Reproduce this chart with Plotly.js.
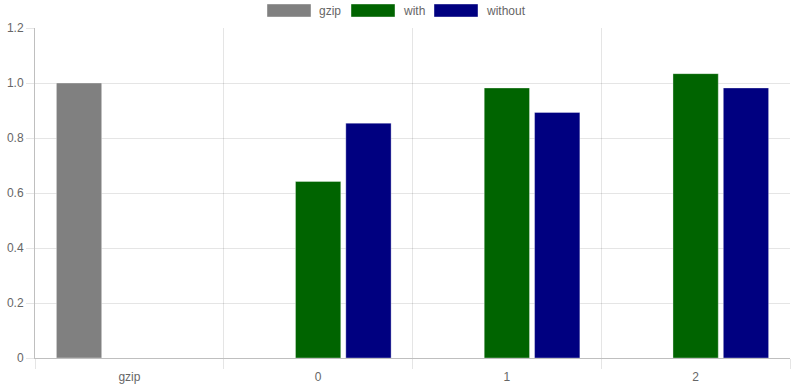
<!DOCTYPE html>
<html>
<head>
<meta charset="utf-8">
<script src="https://cdn.plot.ly/plotly-3.0.1.min.js"></script>
<style>html,body{margin:0;padding:0;background:#fff;}#chart{width:800px;height:388px;}</style>
</head>
<body>
<div id="chart"></div>
<script>
const categories = ["gzip", "0", "1", "2"];
const seriesNames = ["gzip", "with", "without"];
const seriesColors = ["#808080", "#006400", "#000080"];
const gzipValues = [1.0, null, null, null];
const withValues = [null, 0.642, 0.982, 1.034];
const withoutValues = [null, 0.854, 0.893, 0.982];
const yTickVals = [0, 0.2, 0.4, 0.6, 0.8, 1.0, 1.2];
const yTickText = ["0", "0.2", "0.4", "0.6", "0.8", "1.0", "1.2"];

const seriesValues = [gzipValues, withValues, withoutValues];
const traces = seriesNames.map((n, i) => ({
  type: "bar",
  name: n,
  x: categories,
  y: seriesValues[i],
  marker: {color: seriesColors[i], line: {width: 1, color: "rgba(255,255,255,0.35)"}},
  hoverinfo: "x+y+name",
  showlegend: false
}));

// custom Chart.js-style legend
const legendItems = [
  {box: [267, 311], text: 317},
  {box: [351, 395], text: 401},
  {box: [434, 478], text: 484}
];
const shapes = [];
const annotations = [];
seriesNames.forEach((n, i) => {
  const it = legendItems[i];
  shapes.push({type: "rect", xref: "paper", yref: "paper",
    x0: (it.box[0] - 35) / 755, x1: (it.box[1] - 35) / 755,
    y0: (358 - 17) / 330, y1: (358 - 4) / 330,
    fillcolor: seriesColors[i], line: {width: 1, color: "rgba(255,255,255,0.4)"}});
  annotations.push({xref: "paper", yref: "paper", x: (it.text - 35) / 755, y: (358 - 10.5) / 330,
    xanchor: "left", yanchor: "middle", text: n, showarrow: false,
    font: {family: "Liberation Sans, Arial, sans-serif", size: 12, color: "#666666"}});
});

const layout = {
  width: 800, height: 388,
  margin: {l: 35, r: 10, t: 28, b: 30},
  paper_bgcolor: "#fff", plot_bgcolor: "#fff",
  font: {family: "Liberation Sans, Arial, sans-serif", size: 12, color: "#666666"},
  barmode: "group", bargap: 0.2, bargroupgap: 0.1,
  showlegend: false,
  xaxis: {
    type: "category", tickson: "boundaries", ticks: "outside", ticklen: 10, tickcolor: "rgba(0,0,0,0.1)",
    ticklabelstandoff: 8,
    showgrid: true, gridcolor: "rgba(0,0,0,0.1)", gridwidth: 1,
    showline: true, linecolor: "rgba(0,0,0,0.25)", linewidth: 1,
    zeroline: false, fixedrange: true, mirror: false
  },
  yaxis: {
    range: [0, 1.2], tickvals: yTickVals, ticktext: yTickText,
    ticks: "outside", ticklen: 8, tickcolor: "rgba(0,0,0,0.1)",
    showgrid: true, gridcolor: "rgba(0,0,0,0.1)",
    showline: true, linecolor: "rgba(0,0,0,0.25)", linewidth: 1,
    zeroline: false, fixedrange: true
  },
  shapes: shapes,
  annotations: annotations
};

Plotly.newPlot("chart", traces, layout, {displayModeBar: false, responsive: false});
</script>
</body>
</html>
